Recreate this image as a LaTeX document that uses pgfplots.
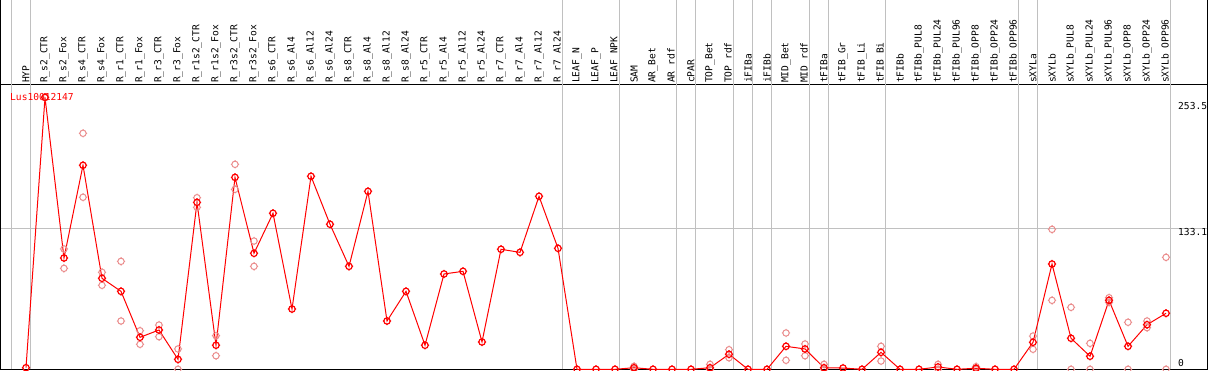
\documentclass[border=0pt]{standalone}
\usepackage{pgfplots}
\pgfplotsset{compat=1.18}
\usepackage{fontspec}
\newfontfamily\chartfont{DejaVu Sans Mono}
\definecolor{gridgrey}{RGB}{192,192,192}
\definecolor{rep}{RGB}{234,140,140}
\pgfdeclareplotmark{ringtick}{%
  \pgfpathcircle{\pgfpointorigin}{\pgfplotmarksize}%
  \pgfpathmoveto{\pgfpoint{0pt}{\pgfplotmarksize}}\pgfpathlineto{\pgfpoint{0pt}{1.3\pgfplotmarksize}}%
  \pgfpathmoveto{\pgfpoint{0pt}{-\pgfplotmarksize}}\pgfpathlineto{\pgfpoint{0pt}{-1.3\pgfplotmarksize}}%
  \pgfpathmoveto{\pgfpoint{\pgfplotmarksize}{0pt}}\pgfpathlineto{\pgfpoint{1.3\pgfplotmarksize}{0pt}}%
  \pgfpathmoveto{\pgfpoint{-\pgfplotmarksize}{0pt}}\pgfpathlineto{\pgfpoint{-1.3\pgfplotmarksize}{0pt}}%
  \pgfusepathqstroke}
\newcommand\cf{\chartfont\fontsize{9.6}{10}\selectfont}
\begin{document}
\begin{tikzpicture}
\begin{axis}[
  scale only axis, width=1207pt, height=284.3pt,
  xmin=-0.342, xmax=63.184, ymin=0, ymax=268.4,
  clip=false,
  axis line style={black, line width=1pt},
  xtick={1,...,61},
  xticklabels={HYP,R\_s2\_CTR,R\_s2\_Fox,R\_s4\_CTR,R\_s4\_Fox,R\_r1\_CTR,R\_r1\_Fox,R\_r3\_CTR,R\_r3\_Fox,R\_r1s2\_CTR,R\_r1s2\_Fox,R\_r3s2\_CTR,R\_r3s2\_Fox,R\_s6\_CTR,R\_s6\_Al4,R\_s6\_Al12,R\_s6\_Al24,R\_s8\_CTR,R\_s8\_Al4,R\_s8\_Al12,R\_s8\_Al24,R\_r5\_CTR,R\_r5\_Al4,R\_r5\_Al12,R\_r5\_Al24,R\_r7\_CTR,R\_r7\_Al4,R\_r7\_Al12,R\_r7\_Al24,LEAF\_N,LEAF\_P,LEAF\_NPK,SAM,AR\_Bet,AR\_rdf,cPAR,TOP\_Bet,TOP\_rdf,iFIBa,iFIBb,MID\_Bet,MID\_rdf,tFIBa,tFIB\_Gr,tFIB\_Li,tFIB\_Bi,tFIBb,tFIBb\_PUL8,tFIBb\_PUL24,tFIBb\_PUL96,tFIBb\_OPP8,tFIBb\_OPP24,tFIBb\_OPP96,sXYLa,sXYLb,sXYLb\_PUL8,sXYLb\_PUL24,sXYLb\_PUL96,sXYLb\_OPP8,sXYLb\_OPP24,sXYLb\_OPP96},
  xticklabel pos=upper,
  x tick label style={rotate=90, anchor=west, font=\cf, inner sep=0pt, inner xsep=2pt},
  major tick length=0pt,
  tick style={draw=none},
  ytick={133.1}, yticklabels={}, ymajorgrids,
  grid style={gridgrey, line width=1pt},
]
\pgfplotsinvokeforeach{0.247,1.247,29.247,32.247,35.247,36.247,38.247,39.247,40.247,42.247,43.247,46.247,53.247,54.226,61.247}{
  \draw[gridgrey, line width=1pt] (axis cs:#1,0) -- (axis cs:#1,348.6);
}
\draw[black, line width=1pt] (rel axis cs:0,1) -- (rel axis cs:0,1.299) -- (rel axis cs:1,1.299) -- (rel axis cs:1,1);
\node[anchor=west, inner sep=0pt, text=red, font=\cf] at (axis cs:0.158,257) {Lus10012147};
\node[anchor=west, inner sep=0pt, font=\cf] at (axis cs:61.63,253.5) [yshift=-5pt] {253.5};
\node[anchor=west, inner sep=0pt, font=\cf] at (axis cs:61.63,133.1) [yshift=-4pt] {133.1};
\node[anchor=west, inner sep=0pt, font=\cf] at (axis cs:61.63,0) [yshift=6.6pt] {0};
% replicates
\addplot[only marks, mark=ringtick, mark size=3.2pt, color=rep, line width=1pt] coordinates {
(2,256.7)(2,256.7)
(3,113.6)(3,95.3)
(4,222.8)(4,162.4)
(5,91.6)(5,79.3)
(6,101.9)(6,45.6)
(7,36.4)(7,23.6)
(8,41.8)(8,30.8)
(9,19.2)(9,0)
(10,162.0)(10,152.9)
(11,31.7)(11,12.8)
(12,193.5)(12,169.9)
(13,121.1)(13,97.2)
(33,2.8)(33,0)
(37,4.7)(37,0)
(38,18.5)(38,10.9)
(41,34.3)(41,8.5)
(42,23.9)(42,12.8)
(43,4.7)(43,0)
(46,21.7)(46,7.8)
(49,4.7)(49,0)
(51,2.5)(51,0)
(54,31.4)(54,18.9)
(55,132.1)(55,65.1)
(56,58.5)(56,0)
(57,24.5)(57,0)
(58,67.6)(58,63.2)
(59,44.4)(59,0)
(60,45.6)(60,39.3)
(61,105.7)(61,0)
};
% means
\addplot[red, line width=1pt, mark=ringtick, mark size=3.2pt, mark options={line width=1.2pt}] coordinates {
(1,1.5)(2,256.7)(3,105.1)(4,192.6)(5,85.9)(6,73.6)(7,30.2)(8,37.1)(9,9.4)(10,157.6)
(11,22.7)(12,181.2)(13,109.5)(14,147.3)(15,56.9)(16,182.2)(17,136.9)(18,97.2)(19,168.0)(20,45.6)
(21,73.6)(22,22.7)(23,90.0)(24,92.5)(25,25.8)(26,113.3)(27,110.4)(28,163.3)(29,114.2)(30,0)
(31,0)(32,0)(33,1.5)(34,0)(35,0)(36,0)(37,1.5)(38,14.2)(39,0)(40,0)
(41,21.7)(42,19.2)(43,1.5)(44,1.2)(45,0)(46,16.0)(47,0)(48,0)(49,2.2)(50,0)
(51,1.0)(52,0)(53,0)(54,25.5)(55,99.4)(56,29.3)(57,12.3)(58,65.1)(59,21.7)(60,42.1)
(61,52.9)
};
\end{axis}
\pgfresetboundingbox
\path (-0.5pt,-0.7pt) rectangle (1208.5pt,369.3pt);
\end{tikzpicture}
\end{document}
